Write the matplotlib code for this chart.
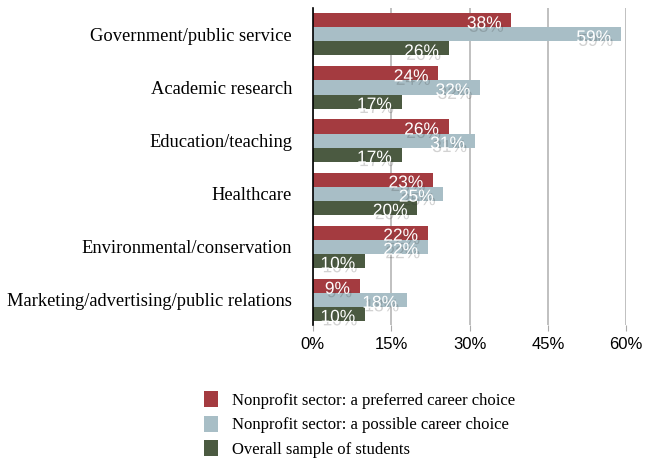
import matplotlib.pyplot as plt
import matplotlib.patheffects as pe
from matplotlib.patches import Patch
import numpy as np

categories = ["Government/public service", "Academic research", "Education/teaching",
              "Healthcare", "Environmental/conservation",
              "Marketing/advertising/public relations"]
preferred = [38, 24, 26, 23, 22, 9]
possible = [59, 32, 31, 25, 22, 18]
overall = [26, 17, 17, 20, 10, 10]
series_names = ["Nonprofit sector: a preferred career choice",
                "Nonprofit sector: a possible career choice",
                "Overall sample of students"]
colors = ["#a43b40", "#a8bec6", "#4b5a41"]

fig = plt.figure(figsize=(6.45, 4.62), dpi=100)
ax = fig.add_axes([0.485, 0.297, 0.486, 0.686])

y = np.arange(len(categories))
h = 0.265
for k, vals in enumerate([preferred, possible, overall]):
    pos = y + (k - 1) * h
    ax.barh(pos, vals, height=h, color=colors[k], zorder=3)
    for p, v in zip(pos, vals):
        t = ax.annotate(f"{v}%", (v, p), xytext=(-7, -2.5), textcoords="offset points",
                        ha="right", va="center", color="white", fontsize=12.5,
                        family="Liberation Sans", zorder=4)
        t.set_path_effects([pe.SimplePatchShadow(offset=(1.5, -2.5), shadow_rgbFace="#333333", alpha=0.22),
                            pe.Normal()])

ax.set_xlim(0, 60)
ax.set_ylim(5.47, -0.5)
ax.set_xticks([0, 15, 30, 45, 60])
ax.set_xticklabels(["0%", "15%", "30%", "45%", "60%"], family="Liberation Sans", fontsize=12)
ax.set_yticks(y)
ax.set_yticklabels(categories, family="Liberation Serif", fontsize=13.3)
ax.tick_params(axis="y", length=0, pad=15)
ax.tick_params(axis="x", length=4, color="#aaaaaa", pad=5)
ax.grid(axis="x", color="#bbbbbb", linewidth=1.3, zorder=0)
for s in ["top", "right", "bottom"]:
    ax.spines[s].set_visible(False)
ax.spines["left"].set_color("black")
ax.spines["left"].set_linewidth(1.2)
ax.spines["left"].set_zorder(5)

handles = [Patch(facecolor=c, label=n) for c, n in zip(colors, series_names)]
fig.legend(handles=handles, loc="upper left", bbox_to_anchor=(0.304, 0.172), frameon=False,
           prop={"family": "Liberation Serif", "size": 12}, handlelength=0.8,
           handleheight=1.1, handletextpad=0.85, labelspacing=0.42, borderpad=0)

fig.savefig("out.png", dpi=100)
